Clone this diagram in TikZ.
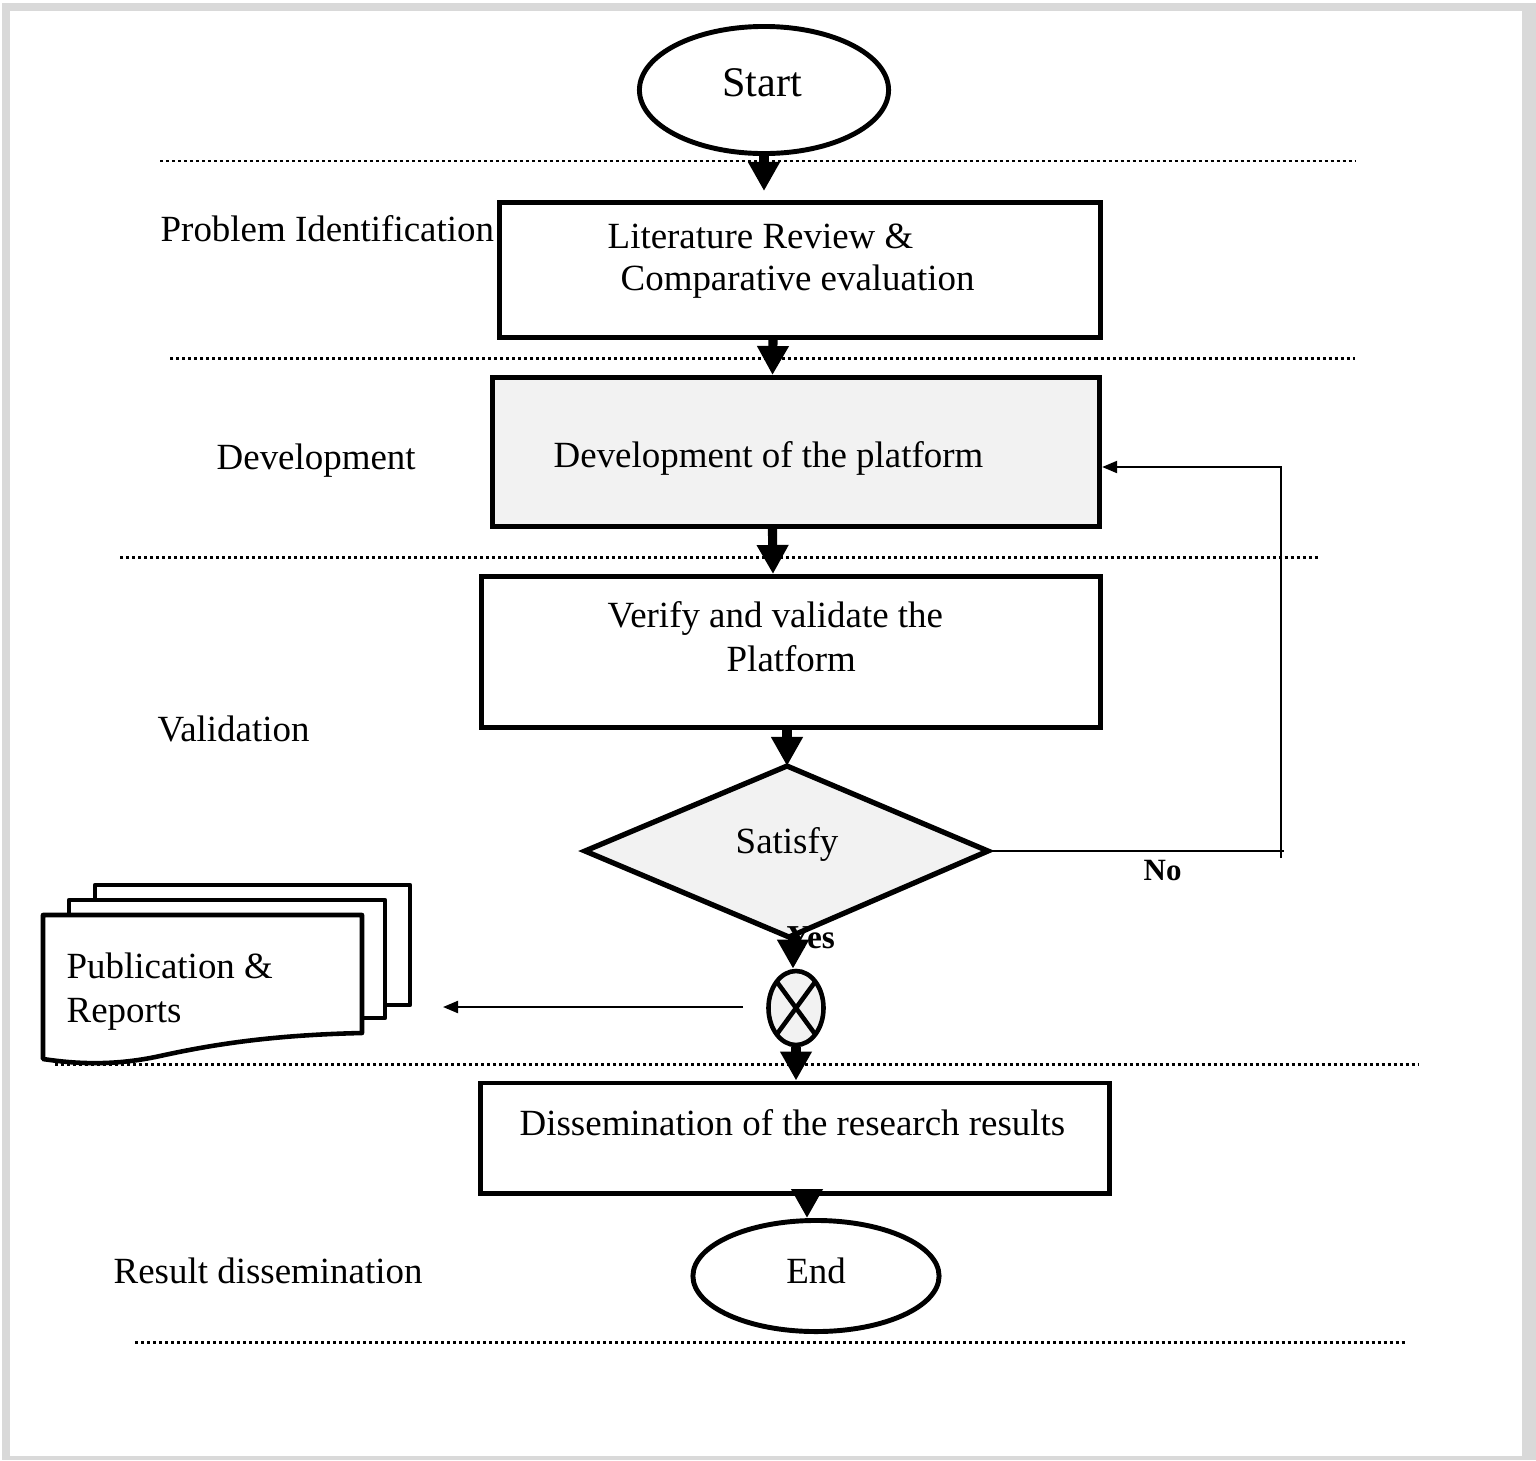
\documentclass[tikz,border=0pt]{standalone}
\usepackage{fontspec}
\setmainfont{Liberation Serif}
\usetikzlibrary{arrows.meta,shapes.geometric,calc}
\definecolor{framegray}{HTML}{D9D9D9}
\definecolor{shadegray}{HTML}{F2F2F2}
\tikzset{
  txt/.style={inner sep=0pt, font=\fontsize{10.5pt}{12.3pt}\selectfont},
  txtw/.style={txt, anchor=base west},
  txtc/.style={txt, anchor=base},
  flag/.style={inner sep=0pt, anchor=base west, font=\fontsize{8.8pt}{10pt}\selectfont\bfseries},
  procbox/.style={draw, rectangle, line width=1.4pt, fill=white, inner sep=0pt},
  terminal/.style={draw, ellipse, line width=1.4pt, fill=white, inner sep=0pt},
  bigarrow/.style={line width=2.6pt, -{Triangle[length=0.29cm,width=0.30cm]}},
  smallarrow/.style={line width=0.6pt, -{Triangle[length=0.15cm,width=0.12cm]}},
  phaseline/.style={line width=0.85pt, dash pattern=on 0.03cm off 0.03cm},
  docsheet/.style={draw, line width=1.3pt, fill=white, line join=round},
}
\begin{document}
\begin{tikzpicture}[x=0.01cm, y=-0.01cm]
  % page frame
  \fill[framegray] (2,3) rectangle (1536,1460);
  \fill[white] (10,11) rectangle (1522,1456);
  \useasboundingbox (0,0) rectangle (1536,1460);

  % phase separators
  \draw[phaseline] (160,161) -- (1355,161);
  \draw[phaseline] (170,358) -- (1355,358);
  \draw[phaseline] (120,557) -- (1318,557);
  \draw[phaseline] (55,1064) -- (1418,1064);
  \draw[phaseline] (135,1342) -- (1405,1342);

  % phase names
  \node[txtw] (phase1) at (160,241) {Problem Identification};
  \node[txtw] (phase2) at (216,469) {Development};
  \node[txtw] (phase3) at (157,741) {Validation};
  \node[txtw] (phase4) at (113,1283) {Result dissemination};

  % flow elements
  \node[terminal, minimum width=2.49cm, minimum height=1.27cm] (start) at (764,90) {};
  \node[txtc, font=\fontsize{12pt}{14pt}\selectfont] (starttxt) at (762,96) {Start};

  \node[procbox, minimum width=6.0cm, minimum height=1.35cm] (lit) at (800,270) {};
  \node[txtw] (lit1) at (607,248) {Literature Review \&};
  \node[txtw] (lit2) at (620,290) {Comparative evaluation};

  \node[procbox, fill=shadegray, minimum width=6.07cm, minimum height=1.49cm] (dev) at (796,452) {};
  \node[txtw] (devtxt) at (553,467) {Development of the platform};

  \node[procbox, minimum width=6.18cm, minimum height=1.51cm] (ver) at (791,652) {};
  \node[txtw] (ver1) at (607,627) {Verify and validate the};
  \node[txtw] (ver2) at (726,671) {Platform};

  % decision
  \coordinate (dl) at (585,851);
  \coordinate (dt) at (787,766);
  \coordinate (dr) at (988,851);
  \coordinate (db) at (789,937);
  \draw[line width=1.5pt, fill=shadegray, line join=miter] (dl) -- (dt) -- (dr) -- (db) -- cycle;
  \node[txtc] (sat) at (787,853) {Satisfy};

  \node[flag, font=\fontsize{9.5pt}{11pt}\selectfont\bfseries] (yes) at (786,948) {Yes};
  \node[flag] (no) at (1143,880) {No};

  % merge connector
  \node[draw, ellipse, line width=1.3pt, fill=shadegray, minimum width=0.55cm, minimum height=0.74cm, inner sep=0pt] (merge) at (796,1008) {};
  \draw[line width=1.3pt] ([shift={(-19,-26)}]merge.center) -- ([shift={(19,26)}]merge.center);
  \draw[line width=1.3pt] ([shift={(19,-26)}]merge.center) -- ([shift={(-19,26)}]merge.center);

  \node[procbox, minimum width=6.28cm, minimum height=1.10cm] (dis) at (795,1138) {};
  \node[txtw] (distxt) at (519,1135) {Dissemination of the research results};

  \node[terminal, minimum width=2.46cm, minimum height=1.11cm] (finish) at (816,1276) {};
  \node[txtc] (endtxt) at (816,1283) {End};

  % document stack
  \draw[docsheet] (95,885) rectangle (410,1005);
  \draw[docsheet] (69,900) rectangle (385,1018);
  \draw[docsheet] (43,915) -- (362,915) -- (362,1033)
    .. controls (270,1035) and (210,1045) .. (160,1056)
    .. controls (110,1067) and (70,1063) .. (43,1059) -- cycle;
  \node[txtw] (pub1) at (66,978) {Publication \&};
  \node[txtw] (pub2) at (66,1022) {Reports};

  % main flow
  \draw[bigarrow, shorten >=0.09cm] (start.south) -- (start.south |- lit.north);
  \draw[bigarrow] ([xshift=-0.27cm]lit.south) -- ([xshift=-0.235cm]dev.north);
  \draw[bigarrow] ([xshift=-0.235cm]dev.south) -- ([xshift=-0.18cm]ver.north);
  \draw[bigarrow] (ver.south -| dt) -- (dt);
  \draw[bigarrow] ([xshift=-0.03cm]merge.north |- db) -- ([xshift=-0.03cm]merge.north);
  \draw[bigarrow] (merge.south) -- (merge.south |- dis.north);
  \draw[bigarrow] ([xshift=0.12cm]dis.south) -- ([xshift=0.12cm]dis.south |- finish.north);

  % rework loop
  \coordinate (loopbot) at (1281,858);
  \coordinate (looptop) at (1281,467);
  \coordinate (loopcorner) at (1284,851);
  \draw[line width=0.6pt] (dr) -- (loopcorner);
  \draw[smallarrow] (loopbot) -- (looptop) -- (looptop -| dev.east);

  % output to publications
  \coordinate (pubfrom) at (743,1007);
  \coordinate (pubto) at (443,1007);
  \draw[smallarrow] (pubfrom) -- (pubto);
\end{tikzpicture}
\end{document}
